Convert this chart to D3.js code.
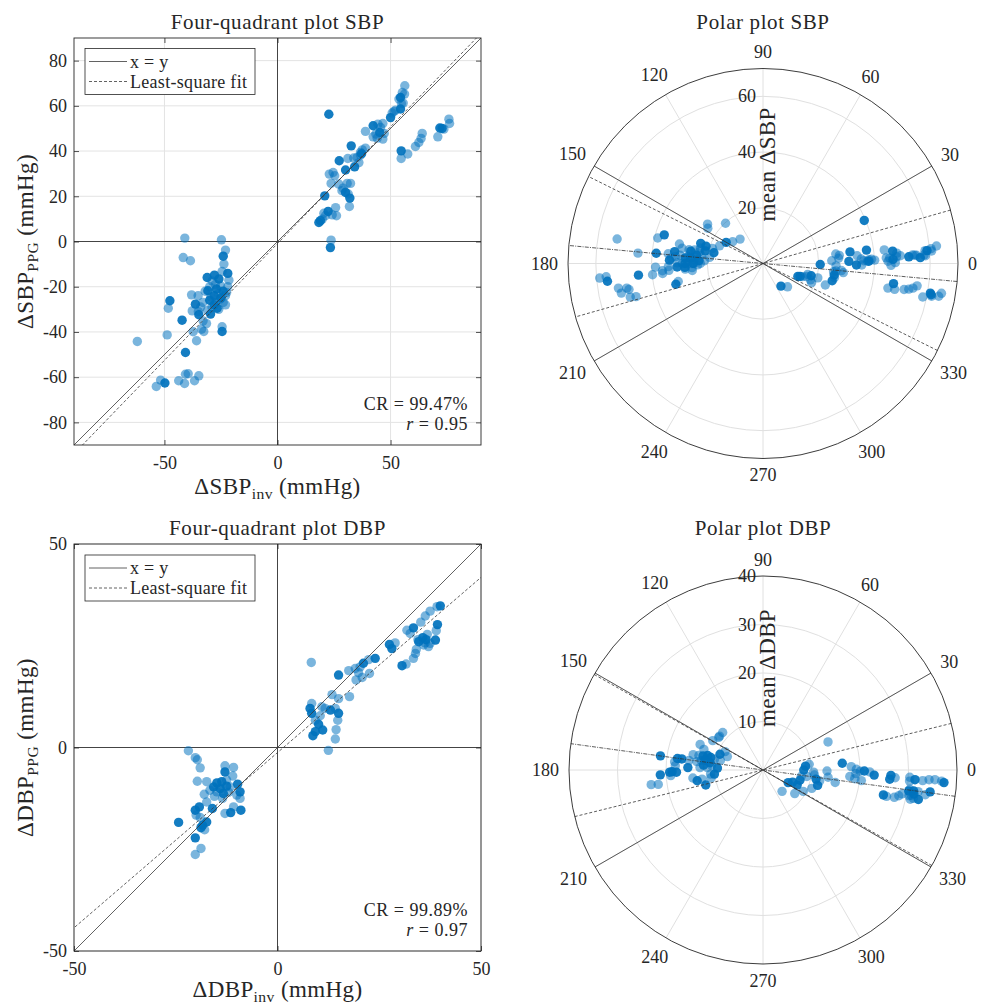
<!DOCTYPE html>
<html>
<head>
<meta charset="utf-8">
<script src="https://cdn.jsdelivr.net/npm/d3@7"></script>
<style>
  body { margin: 0; background: #fff; }
  svg text { font-family: "Liberation Serif", "Times New Roman", serif; fill: #262626; }
</style>
</head>
<body>
<svg id="chart" width="982" height="1004"></svg>
<script>
// ---------------- SBP changes (mmHg): invasive reference vs PPG estimate ----------------
const sbpInvLight = [56.3,55.2,56.2,53.7,55.6,54.8,52.2,50.7,51.5,44.4,46.6,45.6,38.9,42.3,46.6,44.1,43.5,47.2,
  75.8,76.1,73.6,70.9,64,63.5,62.5,61,57.6,54.7,38.9,36.7,31.1,33.7,35.2,36.7,36,37.5,
  22.9,24.6,25.3,23.7,27.1,29,30.8,32.3,31.3,31.8,25.7,24.2,26.1,21.2,19.8,23.7,28.5,20.5,
  -41,-24.8,-23,-41.7,-38.5,-23.7,-24.5,-28.9,-21.5,-25.2,-38,-48.3,-37.7,-32.9,-33.6,-32.6,-37.3,-35.8,-48.8,-62,
  -24.5,-31.4,-35.1,-40.7,-39.5,-34.8,-36.7,-41.1,-43.7,-51.7,-53.6,
  -26,-23,-27,-24,-22,-33,-26,-29,-32,-30,-23,-34,-35,-29.5,-27.5,-25.5,-31,-22.5];
const sbpPpgLight = [68.9,65.9,65.2,63,61.2,61,58.1,56.8,57.5,51.9,52.2,50.4,48.7,46.3,45.3,45.7,47.5,47.8,
  54.1,52.2,49.7,46.3,47.8,45.6,43.8,42,38.7,36.7,41.3,39.4,36.7,36.9,37.2,38.3,34.9,40.5,
  29.8,30.5,29.1,25.7,25.4,23.6,25.7,25.7,21,15.5,15,11.8,11.4,11.4,9.9,0.6,22.5,12.5,
  1.5,0.75,-3.8,-7.1,-8.5,-10,-13.3,-17.4,-17.1,-19.6,-23.6,-29.5,-30.7,-35.1,-38.8,-39.8,-39.9,-43.9,-41.3,-44.2,
  -37.7,-36.3,-24,-58.7,-58.5,-59.4,-61.6,-62.8,-61.6,-61.3,-64.1,
  -23,-24,-27,-27,-20,-27,-30,-29,-22,-20,-28,-29,-31,-24.5,-19,-25.5,-30.5,-22.5];
const sbpInvDark = [22.7,54.4,54.4,50,42.3,45.2,54.7,71.8,72.8,32.6,34.1,30.1,27.3,30.1,32,20.9,22.4,18.3,19,23.4,37.2,
  -24,-31.1,-27.9,-22,-25.9,-30.8,-27,-24,-28,-25,-30,-28,-47.6,-42.2,-36.3,-34.8,-40.7,-29.6,-26.7,-24.5,-49.8];
const sbpPpgDark = [56.3,63.7,58.6,54.8,51.2,48.2,40.1,50.2,50,42.3,33,31.6,35.7,21.7,19.2,20.2,13.3,8.4,9.2,-2.7,38.8,
  -6.5,-15.9,-14.9,-14.1,-16.6,-21.8,-21,-22,-24,-25,-26,-28,-26.2,-34.8,-27.7,-32.4,-49.1,-32.1,-29.5,-39.8,-62.6];

// ---------------- DBP changes (mmHg) ----------------
const dbpInvLight = [39.2,37.5,36.3,35.2,32.6,31.8,39,36.3,37.5,37.1,35.9,34.1,33.9,33.4,31.6,28.9,22.4,20.3,19.1,17.5,
  19.9,22.6,19.3,8.3,13.4,17.7,15,14.2,14.8,14.4,14.2,12.5,8.4,9.3,11.7,10.9,36.8,34.5,20.8,10.5,
  -21.9,-20.2,-19,-12.9,-10.8,-19.7,-17.4,-12.5,-11.6,-10,-14.9,-16.6,-17.4,-20,-19,-12.9,-10.8,-17.9,-18.8,-20.2,
  -9.2,-13.5,-15.5,-12,-18,-11,-19.7];
const dbpPpgLight = [34.6,33.5,32.3,30.8,28,28.8,28.7,25.7,25.6,24.8,25.2,24.1,23.1,21.9,20.5,25.7,21.6,19.8,19.4,18.9,
  18.4,18.2,16.6,20.9,13,12.5,12,9.6,6.7,4.4,2.1,-0.7,10.8,6.7,9.6,10,27.8,26.5,17.2,7.8,
  -0.8,-2.5,-5,-4.5,-4.9,-8.3,-8.4,-8,-9.7,-11.7,-10.9,-10.5,-13.4,-16.6,-17.2,-16.2,-14.6,-20.2,-24.8,-26.3,
  -12.5,-12.5,-12,-11,-11.5,-7,-3];
const dbpInvDark = [40,33.4,39.3,35.7,34.7,38.8,30.6,27.5,28.1,24,21.1,15,15,13,8,8.4,10.1,11.1,9.3,8.7,36.5,
  -12.9,-14.9,-13.7,-9.8,-15.7,-14.1,-9.2,-13.3,-16,-19.2,-20.2,-11.5,-9,-24.3,-18.4,-17.4,-18.8,-20.2,-12.5];
const dbpPpgDark = [34.8,29.4,30.2,27,26,26.4,20.1,25.3,24.3,21.9,20.7,17.8,8.4,9.2,9.6,8.4,5.7,4.3,3.9,2.9,26.5,
  -6,-8.7,-8.4,-9,-9.7,-10.1,-10.9,-11.3,-15,-14.6,-15.4,-16,-15.4,-18.4,-19.1,-18.3,-19.7,-22.2,-9.5];

// Least-squares fits [slope, intercept] and summary statistics
const sbpFit = [1.033, -0.9];
const dbpFit = [0.861, -1.25];
const sbpStats = ["99.47%", "0.95"];
const dbpStats = ["99.89%", "0.97"];

// Polar plot: mean angular bias and radial limits of agreement (degrees)
const sbpAngular = [-5.3, 21.2];
const dbpAngular = [-7.8, 21.7];
const polarLimits = [30, 150];
const angleTicks = d3.range(0, 360, 30);

const svg = d3.select("#chart");
const BLUE = "#0072BD";
const INK = "#262626";
const TICK_FS = 18;

function pairs(a, b) { return a.map((v, i) => [v, b[i]]); }

function subLabel(sel, main, sub, tail, size) {
  sel.append("tspan").text(main);
  sel.append("tspan").text(sub).attr("font-size", size * 0.68).attr("dy", size * 0.22);
  sel.append("tspan").text(tail).attr("dy", -size * 0.22);
}

// ---------------- four-quadrant scatter ----------------
function quadrant(o) {
  const g = svg.append("g");
  const x = d3.scaleLinear().domain(o.lim).range([o.left, o.left + o.size]);
  const y = d3.scaleLinear().domain(o.lim).range([o.top + o.size, o.top]);
  const clipId = o.id + "-clip";
  g.append("clipPath").attr("id", clipId).append("rect")
    .attr("x", o.left).attr("y", o.top).attr("width", o.size).attr("height", o.size);

  // light grid
  const grid = g.append("g").attr("stroke", "#e3e3e3").attr("stroke-width", 1);
  o.xticks.filter(v => v !== 0).forEach(v => grid.append("line")
    .attr("x1", x(v)).attr("x2", x(v)).attr("y1", o.top).attr("y2", o.top + o.size));
  o.yticks.filter(v => v !== 0).forEach(v => grid.append("line")
    .attr("y1", y(v)).attr("y2", y(v)).attr("x1", o.left).attr("x2", o.left + o.size));

  // zero axes
  g.append("line").attr("x1", x(0)).attr("x2", x(0)).attr("y1", o.top).attr("y2", o.top + o.size)
    .attr("stroke", "#444").attr("stroke-width", 1);
  g.append("line").attr("y1", y(0)).attr("y2", y(0)).attr("x1", o.left).attr("x2", o.left + o.size)
    .attr("stroke", "#444").attr("stroke-width", 1);

  // points
  const pts = g.append("g").attr("clip-path", `url(#${clipId})`);
  pts.selectAll("circle.l").data(pairs(o.invL, o.ppgL)).join("circle").attr("class", "l")
    .attr("cx", d => x(d[0])).attr("cy", d => y(d[1])).attr("r", 4.7)
    .attr("fill", BLUE).attr("fill-opacity", 0.52);
  pts.selectAll("circle.d").data(pairs(o.invD, o.ppgD)).join("circle").attr("class", "d")
    .attr("cx", d => x(d[0])).attr("cy", d => y(d[1])).attr("r", 4.7)
    .attr("fill", BLUE).attr("fill-opacity", 0.92);

  // identity and least-squares lines
  const lines = g.append("g").attr("clip-path", `url(#${clipId})`).attr("fill", "none");
  const L = o.lim;
  lines.append("line").attr("x1", x(L[0])).attr("y1", y(L[0])).attr("x2", x(L[1])).attr("y2", y(L[1]))
    .attr("stroke", "#3a3a3a").attr("stroke-width", 0.8);
  const f = v => o.fit[0] * v + o.fit[1];
  lines.append("line").attr("x1", x(L[0] * 1.2)).attr("y1", y(f(L[0] * 1.2)))
    .attr("x2", x(L[1] * 1.2)).attr("y2", y(f(L[1] * 1.2)))
    .attr("stroke", "#3a3a3a").attr("stroke-width", 0.8).attr("stroke-dasharray", "3,2");

  // axes with inward ticks on all sides
  const axB = g.append("g").attr("transform", `translate(0,${o.top + o.size})`)
    .call(d3.axisBottom(x).tickValues(o.xticks).tickSizeInner(-5).tickSizeOuter(0).tickPadding(11).tickFormat(d3.format("d")));
  const axL = g.append("g").attr("transform", `translate(${o.left},0)`)
    .call(d3.axisLeft(y).tickValues(o.yticks).tickSizeInner(-5).tickSizeOuter(0).tickPadding(7).tickFormat(d3.format("d")));
  const axT = g.append("g").attr("transform", `translate(0,${o.top})`)
    .call(d3.axisTop(x).tickValues(o.xticks).tickSizeInner(-5).tickSizeOuter(0).tickFormat(""));
  const axR = g.append("g").attr("transform", `translate(${o.left + o.size},0)`)
    .call(d3.axisRight(y).tickValues(o.yticks).tickSizeInner(-5).tickSizeOuter(0).tickFormat(""));
  [axB, axL, axT, axR].forEach(a => {
    a.select(".domain").remove();
    a.selectAll(".tick line").attr("stroke", INK).attr("stroke-width", 0.8);
    a.selectAll(".tick text").attr("font-family", "Liberation Serif").attr("font-size", TICK_FS).attr("fill", INK)
      .text(function () { return d3.select(this).text().replace("\u2212", "-"); });
  });

  g.append("rect").attr("x", o.left).attr("y", o.top).attr("width", o.size).attr("height", o.size)
    .attr("fill", "none").attr("stroke", INK).attr("stroke-width", 0.9);

  // legend
  const lg = g.append("g").attr("transform", `translate(${o.left + 11},${o.top + o.legendDy})`);
  lg.append("rect").attr("width", 170).attr("height", 46).attr("fill", "#fff")
    .attr("stroke", INK).attr("stroke-width", 0.8);
  [["x = y", null, 13], ["Least-square fit", "3,2", 33]].forEach(([t, dash, yy]) => {
    lg.append("line").attr("x1", 4).attr("x2", 42).attr("y1", yy).attr("y2", yy)
      .attr("stroke", "#3a3a3a").attr("stroke-width", 0.8).attr("stroke-dasharray", dash);
    lg.append("text").attr("x", 45).attr("y", yy).attr("dominant-baseline", "central")
      .attr("font-size", 18).attr("letter-spacing", 0.3).text(t);
  });

  // statistics
  g.append("text").attr("text-anchor", "end").attr("font-size", 18).attr("letter-spacing", 0.5)
    .attr("x", o.left + o.size - 13).attr("y", o.top + o.size - 35).text("CR = " + o.stats[0]);
  const r2 = g.append("text").attr("text-anchor", "end").attr("font-size", 18).attr("letter-spacing", 0.5)
    .attr("x", o.left + o.size - 13).attr("y", o.top + o.size - 15);
  r2.append("tspan").attr("font-style", "italic").text("r");
  r2.append("tspan").text(" = " + o.stats[1]);

  // title and axis labels
  g.append("text").attr("x", o.left + o.size / 2).attr("y", o.top - 16).attr("text-anchor", "middle")
    .attr("dominant-baseline", "central").attr("font-size", 21).attr("letter-spacing", 0.6).text(o.title);
  const xl = g.append("text").attr("x", o.left + o.size / 2).attr("y", o.top + o.size + o.xlabelDy)
    .attr("text-anchor", "middle").attr("font-size", 23).attr("letter-spacing", 0.4);
  subLabel(xl, o.name, "inv", " (mmHg)", 23);
  const yl = g.append("text").attr("transform", `translate(33,${o.top + o.size / 2}) rotate(-90)`)
    .attr("text-anchor", "middle").attr("font-size", 23).attr("letter-spacing", 0.4);
  subLabel(yl, o.name, "PPG", " (mmHg)", 23);
}

// ---------------- polar plot ----------------
function polar(o) {
  const g = svg.append("g");
  const r = d3.scaleLinear().domain([0, o.rmax]).range([0, o.R]);
  const rad = a => a * Math.PI / 180;
  const px = (a, d) => o.cx + d * Math.cos(rad(a));
  const py = (a, d) => o.cy - d * Math.sin(rad(a));

  // grid
  const grid = g.append("g").attr("stroke", "#e0e0e0").attr("stroke-width", 1).attr("fill", "none");
  angleTicks.forEach(a => grid.append("line").attr("x1", o.cx).attr("y1", o.cy)
    .attr("x2", px(a, o.R)).attr("y2", py(a, o.R)));
  o.rticks.filter(v => v < o.rmax).forEach(v => grid.append("circle")
    .attr("cx", o.cx).attr("cy", o.cy).attr("r", r(v)));

  // points: angle from the identity line, radius = |mean change|
  const toPolar = (a, b) => [Math.atan2(b, a) * 180 / Math.PI - 45, Math.abs((a + b) / 2)];
  const draw = (inv, ppg, op, cls) => g.selectAll("circle." + cls)
    .data(inv.map((v, i) => toPolar(v, ppg[i]))).join("circle").attr("class", cls)
    .attr("cx", d => px(d[0], r(d[1]))).attr("cy", d => py(d[0], r(d[1]))).attr("r", 4.7)
    .attr("fill", BLUE).attr("fill-opacity", op);
  draw(o.invL, o.ppgL, 0.52, "l");
  draw(o.invD, o.ppgD, 0.92, "d");

  // limit lines through the origin
  const lines = g.append("g").attr("stroke", "#333").attr("stroke-width", 0.8);
  const diam = (a, dash) => lines.append("line")
    .attr("x1", px(a, o.R)).attr("y1", py(a, o.R)).attr("x2", px(a + 180, o.R)).attr("y2", py(a + 180, o.R))
    .attr("stroke-dasharray", dash);
  polarLimits.forEach(a => diam(a, null));
  diam(o.ang[0], "4,1.2,1,1.2");
  diam(o.ang[0] + o.ang[1], "3,2");
  diam(o.ang[0] - o.ang[1], "3,2");

  g.append("circle").attr("cx", o.cx).attr("cy", o.cy).attr("r", o.R)
    .attr("fill", "none").attr("stroke", INK).attr("stroke-width", 0.9);

  // angle labels
  angleTicks.forEach(a => {
    const t = g.append("text").attr("font-size", TICK_FS).attr("text-anchor", "middle")
      .attr("dominant-baseline", "central").text(a);
    const w = t.node().getComputedTextLength();
    const off = o.R + 10 + Math.abs(Math.cos(rad(a))) * w / 2 + Math.abs(Math.sin(rad(a))) * 6.5;
    t.attr("x", px(a, off)).attr("y", py(a, off));
  });

  // radial tick labels
  o.rticks.forEach(v => g.append("text").attr("x", o.cx - 7).attr("y", o.cy - r(v))
    .attr("text-anchor", "end").attr("dominant-baseline", "central").attr("font-size", TICK_FS).text(v));

  // radial axis label
  g.append("text").attr("transform", `translate(${o.cx + 4},${o.cy - o.labelDy}) rotate(-90)`)
    .attr("text-anchor", "middle").attr("dominant-baseline", "central").attr("font-size", 23)
    .attr("letter-spacing", 0.3).text(o.rlabel);

  g.append("text").attr("x", o.cx).attr("y", o.titleY).attr("text-anchor", "middle")
    .attr("dominant-baseline", "central").attr("font-size", 21).attr("letter-spacing", 0.6).text(o.title);
}

quadrant({ id: "sbp", left: 74, top: 38, size: 407, lim: [-90, 90],
  xticks: [-50, 0, 50], yticks: [-80, -60, -40, -20, 0, 20, 40, 60, 80],
  invL: sbpInvLight, ppgL: sbpPpgLight, invD: sbpInvDark, ppgD: sbpPpgDark,
  fit: sbpFit, stats: sbpStats, title: "Four-quadrant plot SBP", name: "\u0394SBP", legendDy: 10.5, xlabelDy: 49 });

quadrant({ id: "dbp", left: 74, top: 544, size: 407, lim: [-50, 50],
  xticks: [-50, 0, 50], yticks: [-50, 0, 50],
  invL: dbpInvLight, ppgL: dbpPpgLight, invD: dbpInvDark, ppgD: dbpPpgDark,
  fit: dbpFit, stats: dbpStats, title: "Four-quadrant plot DBP", name: "\u0394DBP", legendDy: 11, xlabelDy: 46 });

polar({ cx: 763, cy: 263.5, R: 195, rmax: 70, rticks: [20, 40, 60],
  invL: sbpInvLight, ppgL: sbpPpgLight, invD: sbpInvDark, ppgD: sbpPpgDark,
  ang: sbpAngular, rlabel: "mean \u0394SBP", labelDy: 99, title: "Polar plot SBP", titleY: 22 });

polar({ cx: 763, cy: 770, R: 194, rmax: 40, rticks: [10, 20, 30, 40],
  invL: dbpInvLight, ppgL: dbpPpgLight, invD: dbpInvDark, ppgD: dbpPpgDark,
  ang: dbpAngular, rlabel: "mean \u0394DBP", labelDy: 102, title: "Polar plot DBP", titleY: 528 });
</script>
</body>
</html>
